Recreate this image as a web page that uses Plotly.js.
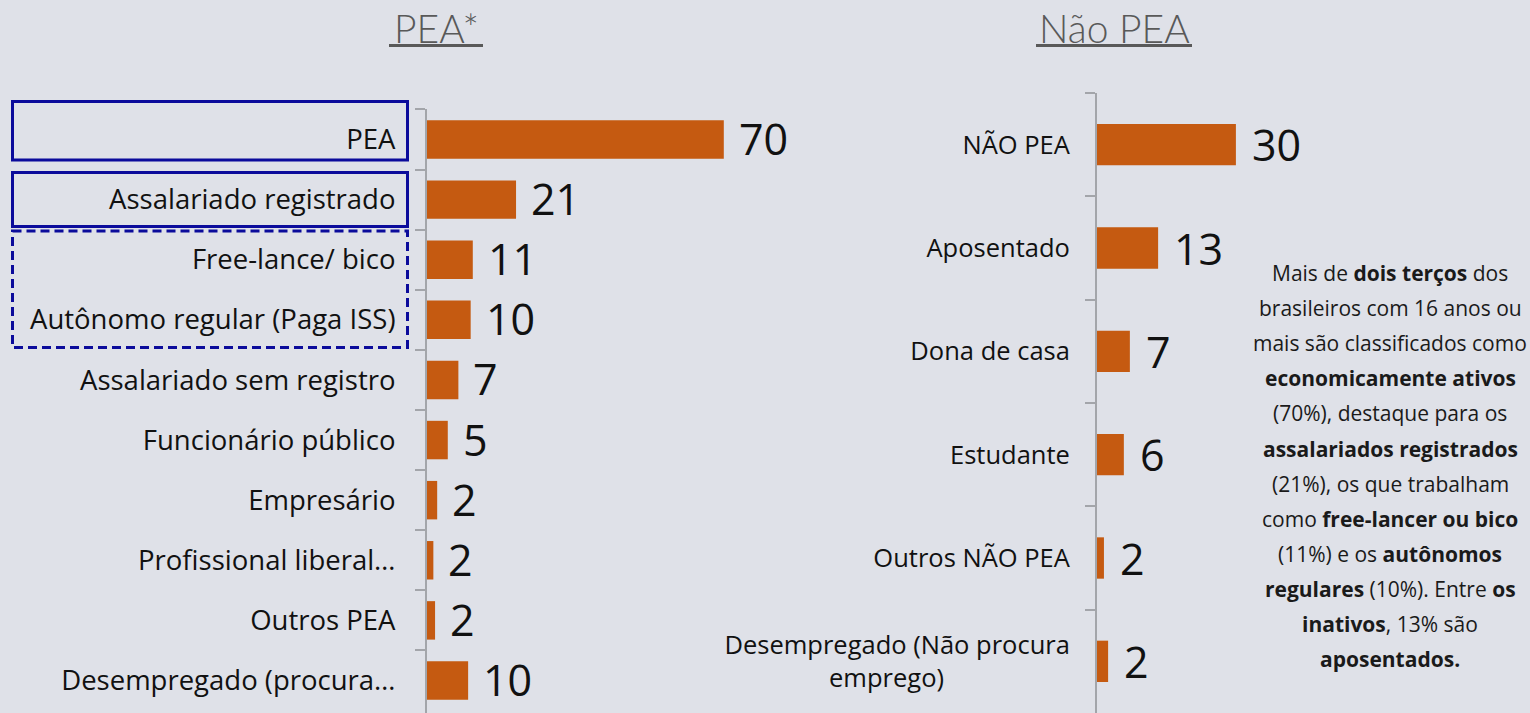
<!DOCTYPE html>
<html>
<head>
<meta charset="utf-8">
<script src="https://cdn.plot.ly/plotly-3.0.1.min.js"></script>
<style>html,body{margin:0;padding:0;background:#dfe1e8;}#chart{width:1530px;height:713px;}</style>
</head>
<body>
<div id="chart"></div>
<script>
// ---- data ----
const peaCategories = ['PEA', 'Assalariado registrado', 'Free-lance/ bico', 'Autônomo regular (Paga ISS)',
  'Assalariado sem registro', 'Funcionário público', 'Empresário', 'Profissional liberal…',
  'Outros PEA', 'Desempregado (procura…'];
const peaValues = [70, 21, 10.8, 10.3, 7.4, 4.9, 2.4, 1.5, 1.9, 9.7];

const naoPeaCategories = ['NÃO PEA', 'Aposentado', 'Dona de casa', 'Estudante', 'Outros NÃO PEA',
  'Desempregado (Não procura<br>emprego)' + '\u00a0'.repeat(19)];
const naoPeaValues = [30, 13.2, 7.1, 5.8, 1.5, 2.4];

const titleLeft = 'PEA*';
const titleRight = 'Não PEA';
const noteLines = [
  'Mais de <b>dois terços</b> dos',
  'brasileiros com 16 anos ou',
  'mais são classificados como',
  '<b>economicamente ativos</b>',
  '(70%), destaque para os',
  '<b>assalariados registrados</b>',
  '(21%), os que trabalham',
  'como <b>free-lancer ou bico</b>',
  '(11%) e os <b>autônomos</b>',
  '<b>regulares</b> (10%). Entre <b>os</b>',
  '<b>inativos</b>, 13% são',
  '<b>aposentados.</b>'
];

// ---- layout helpers ----
const W = 1530, H = 713;
const px = x => x / W;
const py = y => 1 - y / H;
const FONT = 'Open Sans, Noto Sans, sans-serif';
const TFONT = 'Lato, Open Sans, sans-serif';
const BAR = '#C55A11';
const AX = '#a3a5aa';
const BLUE = '#0b0b9b';

const traces = [
  {type: 'bar', orientation: 'h', x: peaValues, y: peaCategories, xaxis: 'x', yaxis: 'y',
   width: 0.64, marker: {color: BAR}, hoverinfo: 'skip'},
  {type: 'bar', orientation: 'h', x: naoPeaValues, y: naoPeaCategories, xaxis: 'x2', yaxis: 'y2',
   width: 0.40, marker: {color: BAR}, hoverinfo: 'skip'}
];

const ann = [];
peaValues.forEach((v, i) => ann.push({xref: 'x', yref: 'y', x: v, y: peaCategories[i], text: String(Math.round(v)),
  showarrow: false, xanchor: 'left', yanchor: 'middle', xshift: 13, yshift: 1,
  font: {family: FONT, size: 43, color: '#111111'}}));
naoPeaValues.forEach((v, i) => ann.push({xref: 'x2', yref: 'y2', x: v, y: naoPeaCategories[i], text: String(Math.round(v)),
  showarrow: false, xanchor: 'left', yanchor: 'middle', xshift: 14, yshift: 0,
  font: {family: FONT, size: 43, color: '#111111'}}));

ann.push({xref: 'paper', yref: 'paper', x: px(436), y: py(28), text: titleLeft, showarrow: false,
  xanchor: 'center', yanchor: 'middle', font: {family: TFONT, size: 39, weight: 300, color: '#595959'}});
ann.push({xref: 'paper', yref: 'paper', x: px(1114), y: py(28), text: titleRight, showarrow: false,
  xanchor: 'center', yanchor: 'middle', font: {family: TFONT, size: 39, weight: 300, color: '#595959'}});

noteLines.forEach((t, i) => ann.push({xref: 'paper', yref: 'paper', x: px(1390), y: py(273 + i * 35.1),
  text: t, showarrow: false, xanchor: 'center', yanchor: 'middle',
  font: {family: FONT, size: 21, color: '#1a1a1a'}}));

const shapes = [
  {type: 'rect', xref: 'paper', yref: 'paper', x0: px(12.5), x1: px(407.5), y0: py(101.5), y1: py(160),
   line: {color: BLUE, width: 3}},
  {type: 'rect', xref: 'paper', yref: 'paper', x0: px(12.5), x1: px(407.5), y0: py(172.5), y1: py(226.5),
   line: {color: BLUE, width: 3}},
  {type: 'rect', xref: 'paper', yref: 'paper', x0: px(12.5), x1: px(407.5), y0: py(231), y1: py(347.5),
   line: {color: BLUE, width: 3, dash: '9px,5px'}},
  {type: 'line', xref: 'paper', yref: 'paper', x0: px(389), x1: px(483), y0: py(45.5), y1: py(45.5),
   line: {color: '#595959', width: 3}},
  {type: 'line', xref: 'paper', yref: 'paper', x0: px(1036), x1: px(1192), y0: py(45.5), y1: py(45.5),
   line: {color: '#595959', width: 3}}
];

const yAxisCommon = {
  type: 'category', autorange: 'reversed', showline: true, linecolor: AX, linewidth: 2,
  ticks: 'outside', ticklen: 10, tickcolor: AX, tickwidth: 2, tickson: 'boundaries',
  showgrid: false, zeroline: false, fixedrange: true
};

const layout = {
  width: W, height: H,
  margin: {l: 0, r: 0, t: 0, b: 0},
  paper_bgcolor: '#dfe1e8', plot_bgcolor: 'rgba(0,0,0,0)',
  showlegend: false,
  xaxis: {domain: [px(427), px(427 + 75 * 4.24)], range: [0, 75], visible: false, fixedrange: true},
  yaxis: Object.assign({}, yAxisCommon, {domain: [0, py(109)], anchor: 'x', ticklabelstandoff: 24,
    tickfont: {family: FONT, size: 27.5, color: '#111111'}}),
  xaxis2: {domain: [px(1097), px(1097 + 40 * 4.63)], range: [0, 40], visible: false, fixedrange: true},
  yaxis2: Object.assign({}, yAxisCommon, {domain: [0, py(93)], anchor: 'x2', ticklabelstandoff: 20,
    tickfont: {family: FONT, size: 25.5, color: '#111111'}}),
  annotations: ann,
  shapes: shapes
};

Plotly.newPlot('chart', traces, layout, {staticPlot: true, displayModeBar: false});
</script>
</body>
</html>
